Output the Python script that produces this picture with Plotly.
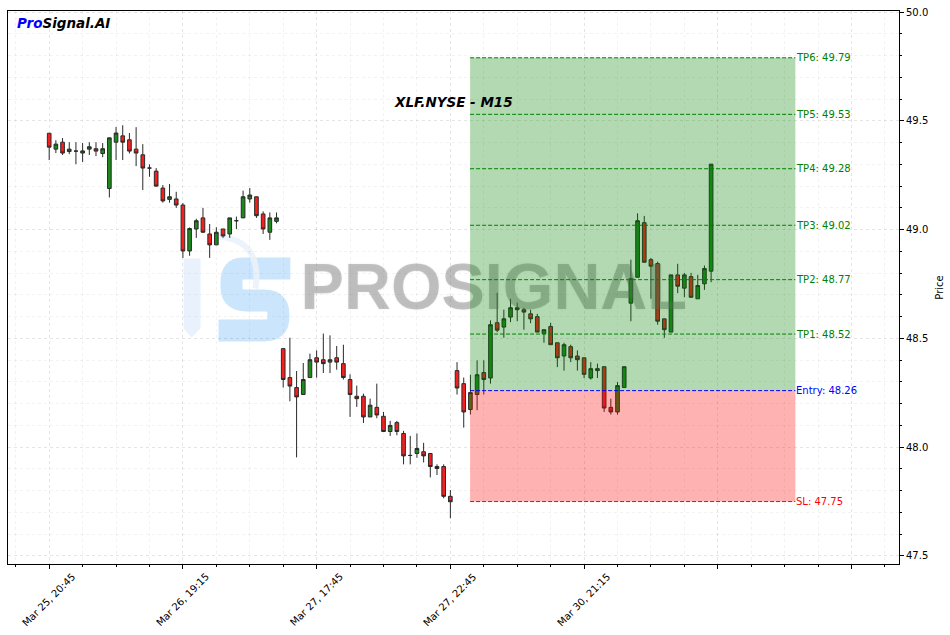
import plotly.graph_objects as go

# ---------------- data ----------------
OPEN = [49.443, 49.370, 49.402, 49.359, 49.361, 49.352, 49.370, 49.372, 49.350, 49.189,
        49.402, 49.431, 49.413, 49.370, 49.344, 49.283, 49.269, 49.191, 49.139, 49.141,
        49.113, 48.902, 49.003, 49.054, 48.980, 48.930, 49.003, 48.980, 49.041, 49.054,
        49.141, 49.151, 49.072, 48.988, 49.038, 48.453, 48.320, 48.274, 48.242, 48.320,
        48.411, 48.402, 48.391, 48.411, 48.384, 48.311, 48.234, 48.234, 48.139, 48.183,
        48.142, 48.072, 48.113, 48.063, 47.962, 47.971, 47.979, 47.971, 47.902, 47.911,
        47.774, 48.352, 48.292, 48.173, 48.242, 48.343, 48.318, 48.572, 48.552, 48.598,
        48.632, 48.632, 48.613, 48.600, 48.522, 48.555, 48.480, 48.419, 48.462, 48.419,
        48.411, 48.318, 48.352, 48.370, 48.183, 48.162, 48.274, 48.662, 48.781, 49.032,
        48.862, 48.844, 48.590, 48.529, 48.792, 48.731, 48.784, 48.682, 48.751, 48.809]
HIGH = [49.443, 49.411, 49.421, 49.402, 49.402, 49.398, 49.402, 49.402, 49.398, 49.422,
        49.472, 49.480, 49.444, 49.471, 49.393, 49.300, 49.283, 49.205, 49.210, 49.174,
        49.122, 49.010, 49.050, 49.100, 49.026, 49.011, 49.003, 49.054, 49.060, 49.179,
        49.191, 49.151, 49.084, 49.079, 49.079, 48.453, 48.503, 48.350, 48.387, 48.430,
        48.445, 48.522, 48.514, 48.465, 48.471, 48.335, 48.283, 48.246, 48.223, 48.292,
        48.162, 48.121, 48.121, 48.075, 48.052, 48.063, 48.020, 47.971, 47.921, 47.921,
        47.803, 48.391, 48.320, 48.333, 48.399, 48.399, 48.583, 48.710, 48.632, 48.682,
        48.664, 48.641, 48.632, 48.613, 48.540, 48.572, 48.480, 48.480, 48.471, 48.445,
        48.411, 48.391, 48.384, 48.370, 48.223, 48.300, 48.370, 48.862, 49.075, 49.063,
        48.870, 48.853, 48.590, 48.792, 48.843, 48.801, 48.801, 48.792, 48.835, 49.301]
LOW = [49.320, 49.352, 49.343, 49.347, 49.301, 49.311, 49.343, 49.338, 49.333, 49.148,
       49.320, 49.320, 49.350, 49.292, 49.182, 49.243, 49.197, 49.124, 49.124, 49.100,
       48.870, 48.880, 48.962, 48.985, 48.870, 48.930, 48.962, 48.962, 49.003, 49.054,
       49.124, 49.054, 48.980, 48.953, 49.029, 48.274, 48.211, 47.953, 48.242, 48.320,
       48.320, 48.341, 48.341, 48.356, 48.311, 48.139, 48.185, 48.111, 48.139, 48.133,
       48.072, 48.052, 48.055, 47.921, 47.921, 47.951, 47.930, 47.861, 47.872, 47.765,
       47.673, 48.242, 48.090, 48.150, 48.170, 48.242, 48.292, 48.529, 48.503, 48.575,
       48.579, 48.540, 48.570, 48.529, 48.480, 48.471, 48.368, 48.352, 48.391, 48.352,
       48.318, 48.311, 48.318, 48.162, 48.150, 48.150, 48.274, 48.579, 48.781, 48.850,
       48.682, 48.563, 48.503, 48.529, 48.708, 48.689, 48.689, 48.682, 48.723, 48.758]
CLOSE = [49.379, 49.393, 49.352, 49.370, 49.361, 49.362, 49.381, 49.361, 49.372, 49.422,
         49.444, 49.402, 49.361, 49.352, 49.283, 49.283, 49.200, 49.132, 49.151, 49.113,
         48.902, 49.005, 49.041, 48.988, 48.930, 48.988, 48.971, 49.054, 49.041, 49.151,
         49.159, 49.064, 49.003, 49.054, 49.054, 48.311, 48.281, 48.231, 48.311, 48.402,
         48.391, 48.384, 48.402, 48.391, 48.320, 48.242, 48.223, 48.139, 48.193, 48.148,
         48.072, 48.100, 48.072, 47.960, 47.962, 47.994, 47.960, 47.911, 47.911, 47.774,
         47.749, 48.272, 48.162, 48.251, 48.333, 48.311, 48.563, 48.538, 48.590, 48.641,
         48.641, 48.621, 48.590, 48.529, 48.540, 48.471, 48.411, 48.471, 48.411, 48.402,
         48.335, 48.361, 48.361, 48.180, 48.162, 48.283, 48.370, 48.775, 49.041, 48.850,
         48.832, 48.579, 48.540, 48.792, 48.740, 48.792, 48.689, 48.743, 48.821, 49.301]
IDX = list(range(len(OPEN)))

TICK_POS = [0, 20, 40, 60, 80]
TICK_TEXT = ["Mar 25, 20:45", "Mar 26, 19:15", "Mar 27, 17:45", "Mar 27, 22:45", "Mar 30, 21:15"]
MAJOR_TICKS = [0, 20, 40, 60, 80, 100, 120]
PRICE_TICKS = [47.5, 48.0, 48.5, 49.0, 49.5, 50.0]

LEVEL_NAMES = ["TP6", "TP5", "TP4", "TP3", "TP2", "TP1", "Entry", "SL"]
LEVEL_VALUES = [49.79, 49.53, 49.28, 49.02, 48.77, 48.52, 48.26, 47.75]
ZONE_START = 62.95
ZONE_END = 111.6

TITLE = "XLF.NYSE - M15"

# ---------------- layout constants ----------------
W, H = 950, 635
ML, MR, MT, MB = 7, 50, 10, 71
X_RANGE = [-6.16, 127.1]
Y_RANGE = [47.463, 50.005]
FONT = "DejaVu Sans"
GRID = "rgba(0,0,0,0.05)"


def pp(px, py):
    """pixel -> paper coords"""
    return (px - ML) / (W - ML - MR), (H - MB - py) / (H - MT - MB)


def path(points_cmds):
    out = []
    for cmd, pts in points_cmds:
        coords = []
        for (x, y) in pts:
            a, b = pp(x, y)
            coords.append(f"{a:.5f},{b:.5f}")
        out.append(cmd + " " + " ".join(coords))
    return " ".join(out)


fig = go.Figure()

# watermark text (below candles)
fig.add_trace(go.Scatter(
    x=[66.5], y=[48.712], mode="text", text=["PROSIGNAL"],
    textfont=dict(family="Liberation Sans", size=65, weight="bold",
                  color="rgba(110,110,110,0.36)",
                  shadow="0px 0px 2px rgba(110,110,110,0.4)"),
    textposition="middle center", hoverinfo="skip", showlegend=False))

fig.add_trace(go.Candlestick(
    x=IDX, open=OPEN, high=HIGH, low=LOW, close=CLOSE,
    increasing=dict(fillcolor="#1b8a1b", line=dict(color="#2a2a2a", width=1)),
    decreasing=dict(fillcolor="#f71e1e", line=dict(color="#2a2a2a", width=1)),
    whiskerwidth=0, showlegend=False, hoverinfo="skip"))

shapes = []
# logo "I" piece
shapes.append(dict(type="path", xref="paper", yref="paper", layer="between",
                   path=path([("M", [(183, 258)]), ("L", [(200, 258)]), ("L", [(200, 328)]),
                              ("L", [(191, 337)]), ("L", [(183, 328)])]) + " Z",
                   fillcolor="rgba(215,232,250,0.55)", line=dict(width=0)))
# logo "S"
shapes.append(dict(type="path", xref="paper", yref="paper", layer="between",
                   path=path([("M", [(290, 268)]), ("L", [(242, 268)]),
                              ("Q", [(231, 268), (231, 281)]), ("L", [(231, 287)]),
                              ("Q", [(231, 300), (246, 300)]), ("L", [(264, 300)]),
                              ("Q", [(278, 300), (278, 313)]), ("L", [(278, 317)]),
                              ("Q", [(278, 330), (264, 330)]), ("L", [(218, 330)])]),
                   line=dict(color="rgba(160,210,250,0.55)", width=22)))
# swoosh
shapes.append(dict(type="path", xref="paper", yref="paper", layer="between",
                   path=path([("M", [(218, 236)]), ("Q", [(262, 240), (255, 288)])]),
                   line=dict(color="rgba(235,242,250,0.9)", width=6)))

# zones (above candles, translucent)
shapes.append(dict(type="rect", xref="x", yref="y", layer="above",
                   x0=ZONE_START, x1=ZONE_END, y0=LEVEL_VALUES[6], y1=LEVEL_VALUES[0],
                   fillcolor="rgba(0,128,0,0.3)", line=dict(width=0)))
shapes.append(dict(type="rect", xref="x", yref="y", layer="above",
                   x0=ZONE_START, x1=ZONE_END, y0=LEVEL_VALUES[7], y1=LEVEL_VALUES[6],
                   fillcolor="rgba(255,0,0,0.3)", line=dict(width=0)))

annotations = []
for name, val in zip(LEVEL_NAMES, LEVEL_VALUES):
    col = "green" if name.startswith("TP") else ("blue" if name == "Entry" else "red")
    shapes.append(dict(type="line", xref="x", yref="y", layer="above",
                       x0=ZONE_START, x1=ZONE_END, y0=val, y1=val,
                       line=dict(color=col, width=1, dash="4px,2px")))
    annotations.append(dict(x=ZONE_END, y=val, xref="x", yref="y", text=f"{name}: {val:.2f}",
                            showarrow=False, xanchor="left", yanchor="middle",
                            font=dict(family=FONT, size=10, color=col), borderpad=0))

for pos, txt in zip(TICK_POS, TICK_TEXT):
    annotations.append(dict(x=pos, xref="x", y=pp(0, 600)[1], yref="paper", text=txt,
                            showarrow=False, textangle=-45, xanchor="center", yanchor="middle",
                            font=dict(family=FONT, size=10, color="black")))

tx, ty = pp(453, 101)
annotations.append(dict(x=tx, y=ty, xref="paper", yref="paper",
                        text="<b><i>" + TITLE + "</i></b>", showarrow=False,
                        xanchor="center", yanchor="middle",
                        font=dict(family=FONT, size=13.5, color="black")))
lx, ly = pp(14, 22)
annotations.append(dict(x=lx, y=ly, xref="paper", yref="paper",
                        text="<b><i><span style='color:blue'>Pro</span>Signal.AI</i></b>",
                        showarrow=False, xanchor="left", yanchor="middle",
                        font=dict(family=FONT, size=13.5, color="black")))

fig.update_layout(
    width=W, height=H, margin=dict(l=ML, r=MR, t=MT, b=MB),
    paper_bgcolor="white", plot_bgcolor="white", showlegend=False,
    font=dict(family=FONT, size=10, color="black"),
    boxgap=0.22,
    shapes=shapes, annotations=annotations,
    xaxis=dict(range=X_RANGE, rangeslider=dict(visible=False), tickmode="array",
               tickvals=MAJOR_TICKS, showticklabels=False, ticks="outside", ticklen=4,
               tickcolor="black", showgrid=True, gridcolor=GRID, griddash="3px,3px",
               showline=True, linecolor="black", linewidth=1, mirror=True, zeroline=False,
               minor=dict(tickmode="linear", tick0=0, dtick=5, ticks="outside", ticklen=2,
                          tickcolor="black", showgrid=True, gridcolor=GRID, griddash="3px,3px")),
    yaxis=dict(range=Y_RANGE, side="right", tickmode="array", tickvals=PRICE_TICKS,
               tickformat=".1f", ticks="outside", ticklen=4, tickcolor="black",
               showgrid=True, gridcolor=GRID, griddash="3px,3px",
               showline=True, linecolor="black", linewidth=1, mirror=True, zeroline=False,
               title=dict(text="Price", font=dict(family=FONT, size=10), standoff=8),
               tickfont=dict(family=FONT, size=10),
               minor=dict(tickmode="linear", tick0=47.5, dtick=0.1, ticks="outside", ticklen=2,
                          tickcolor="black", showgrid=True, gridcolor=GRID, griddash="3px,3px")),
)

fig.write_html("out.html", config={"displayModeBar": False},
               post_script="document.body.style.margin='0px';")
